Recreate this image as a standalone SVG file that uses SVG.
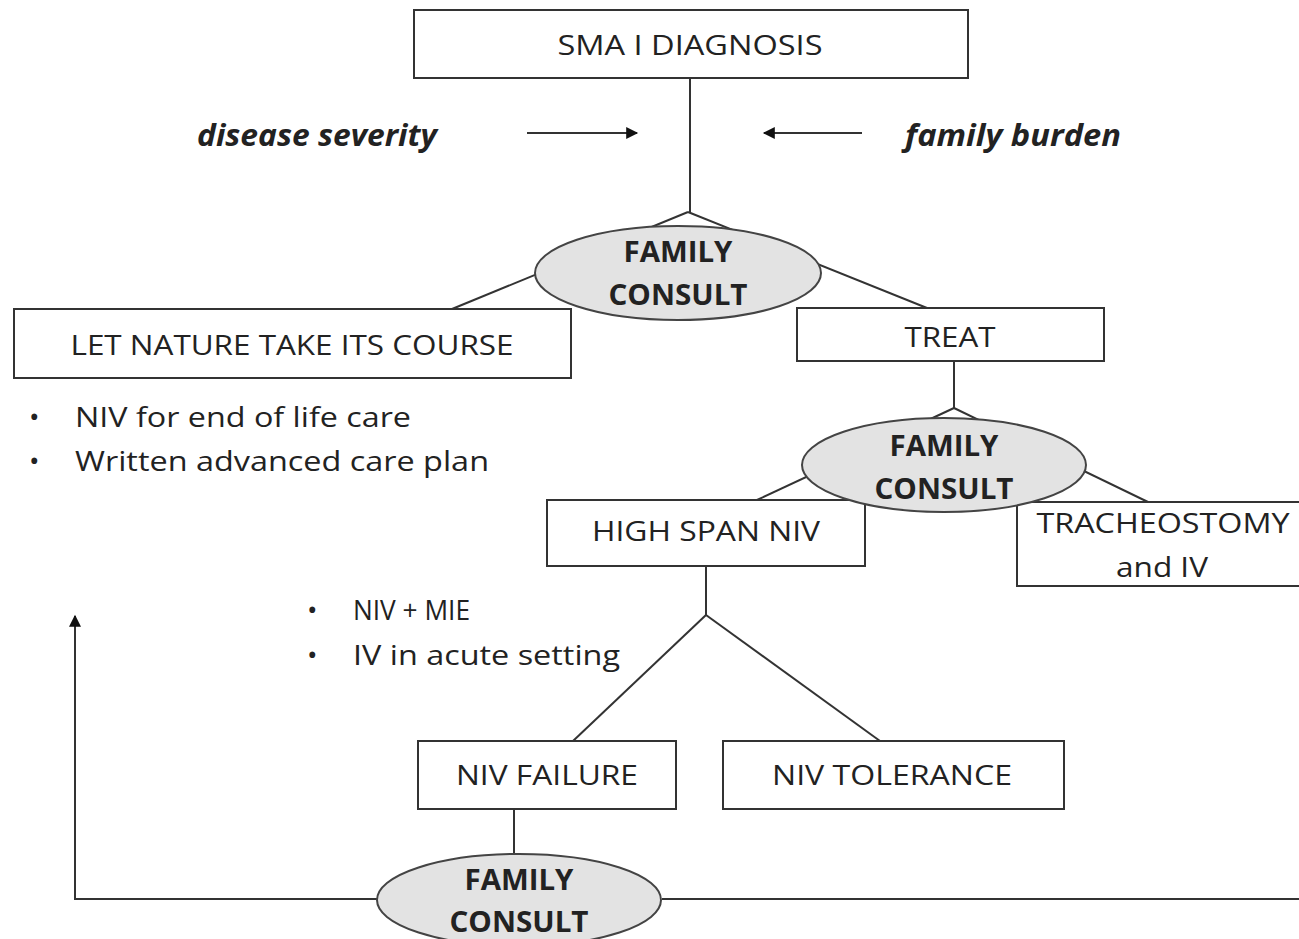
<svg xmlns="http://www.w3.org/2000/svg" width="1299" height="939" viewBox="0 0 1299 939">
<defs>
<marker id="ah" viewBox="0 0 10 10" refX="9" refY="5" markerWidth="7" markerHeight="6" orient="auto" markerUnits="strokeWidth">
<path d="M0,0 L10,5 L0,10 z" fill="#111"/>
</marker>
<style>
.box{fill:#fff;stroke:#333;stroke-width:2}
.ell{fill:#e3e3e3;stroke:#444;stroke-width:2}
.ln{fill:none;stroke:#333;stroke-width:2}
.t{font-family:"Open Sans","Liberation Sans",sans-serif;font-size:28px;fill:#222;text-anchor:middle}
.b{font-family:"Open Sans","Liberation Sans",sans-serif;font-size:28px;font-weight:bold;fill:#222;text-anchor:middle}
.bi{font-family:"Open Sans","Liberation Sans",sans-serif;font-size:30px;font-weight:bold;font-style:italic;fill:#222}
.l{font-family:"Open Sans","Liberation Sans",sans-serif;font-size:28px;fill:#222}
</style>
</defs>
<rect width="1299" height="939" fill="#fff"/>
<g id="connectors">
<line class="ln" x1="690" y1="78" x2="690" y2="212"/>
<line class="ln" x1="688" y1="212" x2="452" y2="309"/>
<line class="ln" x1="688" y1="212" x2="927" y2="308"/>
<line class="ln" x1="527" y1="133" x2="637" y2="133" marker-end="url(#ah)"/>
<line class="ln" x1="862" y1="133" x2="764" y2="133" marker-end="url(#ah)"/>
<line class="ln" x1="954" y1="361" x2="954" y2="408"/>
<line class="ln" x1="954" y1="408" x2="757" y2="500"/>
<line class="ln" x1="954" y1="408" x2="1148" y2="502"/>
<line class="ln" x1="706" y1="566" x2="706" y2="615"/>
<line class="ln" x1="706" y1="615" x2="573" y2="741"/>
<line class="ln" x1="706" y1="615" x2="880" y2="741"/>
<line class="ln" x1="514" y1="809" x2="514" y2="862"/>
<line class="ln" x1="662" y1="899" x2="1299" y2="899"/>
<polyline class="ln" points="378,899 75,899 75,616" marker-end="url(#ah)"/>
</g>
<g id="sma">
<rect class="box" x="414" y="10" width="554" height="68"/>
<text class="t" x="690" y="55" textLength="265" lengthAdjust="spacingAndGlyphs">SMA I DIAGNOSIS</text>
</g>
<g id="factors">
<text class="bi" x="197" y="146" textLength="240" lengthAdjust="spacingAndGlyphs">disease severity</text>
<text class="bi" x="905" y="146" textLength="216" lengthAdjust="spacingAndGlyphs">family burden</text>
</g>
<g id="consult1">
<ellipse class="ell" cx="678" cy="273" rx="143" ry="47"/>
<text class="b" x="678" y="262" textLength="109" lengthAdjust="spacingAndGlyphs">FAMILY</text>
<text class="b" x="678" y="305" textLength="139" lengthAdjust="spacingAndGlyphs">CONSULT</text>
</g>
<g id="nature">
<rect class="box" x="14" y="309" width="557" height="69"/>
<text class="t" x="292" y="355" textLength="443" lengthAdjust="spacingAndGlyphs">LET NATURE TAKE ITS COURSE</text>
</g>
<g id="nature-notes">
<text class="l" x="29" y="427">•</text>
<text class="l" x="75" y="427" textLength="336" lengthAdjust="spacingAndGlyphs">NIV for end of life care</text>
<text class="l" x="29" y="471">•</text>
<text class="l" x="75" y="471" textLength="414" lengthAdjust="spacingAndGlyphs">Written advanced care plan</text>
</g>
<g id="treat">
<rect class="box" x="797" y="308" width="307" height="53"/>
<text class="t" x="950" y="347" textLength="91" lengthAdjust="spacingAndGlyphs">TREAT</text>
</g>
<g id="highspan">
<rect class="box" x="547" y="500" width="318" height="66"/>
<text class="t" x="706" y="541" textLength="228" lengthAdjust="spacingAndGlyphs">HIGH SPAN NIV</text>
</g>
<g id="trach">
<rect class="box" x="1017" y="502" width="300" height="84"/>
<text class="t" x="1163" y="533" textLength="253" lengthAdjust="spacingAndGlyphs">TRACHEOSTOMY</text>
<text class="t" x="1162" y="577" textLength="92" lengthAdjust="spacingAndGlyphs">and IV</text>
</g>
<g id="consult2">
<ellipse class="ell" cx="944" cy="465" rx="142" ry="47"/>
<text class="b" x="944" y="456" textLength="109" lengthAdjust="spacingAndGlyphs">FAMILY</text>
<text class="b" x="944" y="499" textLength="139" lengthAdjust="spacingAndGlyphs">CONSULT</text>
</g>
<g id="niv-notes">
<text class="l" x="307" y="620">•</text>
<text class="l" x="353" y="620" textLength="117" lengthAdjust="spacingAndGlyphs">NIV + MIE</text>
<text class="l" x="307" y="665">•</text>
<text class="l" x="353" y="665" textLength="267" lengthAdjust="spacingAndGlyphs">IV in acute setting</text>
</g>
<g id="failure">
<rect class="box" x="418" y="741" width="258" height="68"/>
<text class="t" x="547" y="785" textLength="182" lengthAdjust="spacingAndGlyphs">NIV FAILURE</text>
</g>
<g id="tolerance">
<rect class="box" x="723" y="741" width="341" height="68"/>
<text class="t" x="892" y="785" textLength="240" lengthAdjust="spacingAndGlyphs">NIV TOLERANCE</text>
</g>
<g id="consult3">
<ellipse class="ell" cx="519" cy="900" rx="142" ry="46"/>
<text class="b" x="519" y="890" textLength="109" lengthAdjust="spacingAndGlyphs">FAMILY</text>
<text class="b" x="519" y="932" textLength="139" lengthAdjust="spacingAndGlyphs">CONSULT</text>
</g>
</svg>
